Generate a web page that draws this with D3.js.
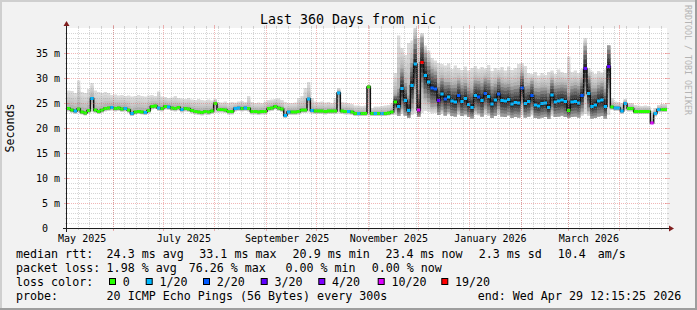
<!DOCTYPE html>
<html><head><meta charset="utf-8">
<script src="https://cdn.jsdelivr.net/npm/d3@7"></script>
<style>
html,body{margin:0;padding:0;background:#f2f2f2;}
svg{display:block;}
text{font-family:"DejaVu Sans Mono",monospace;fill:#000;}
</style></head><body>
<svg id="c" width="697" height="310"></svg>
<script>
// ---------------- data ----------------
const endTime = new Date(Date.UTC(2026, 3, 29, 12, 15, 25));
const spanDays = 360;
const stepDays = 2;
const title = "Last 360 Days from nic";
const yLabel = "Seconds";
const yTicks = [0, 5, 10, 15, 20, 25, 30, 35];
const yMaxMs = 40;

// median rtt per 2-day step (ms)
const median = [
23.9,23.6,23.4,23.8,23.2,23.0,23.5,25.9,23.6,23.3,
23.6,23.9,24.0,24.1,23.9,24.0,23.8,23.9,23.6,22.9,
23.2,23.3,23.2,23.1,23.5,24.3,24.4,24.0,23.9,24.3,
24.2,24.0,23.9,24.1,23.7,23.9,23.8,23.5,23.3,23.2,
23.1,23.3,23.2,23.4,24.9,23.7,23.7,23.6,23.3,23.3,
23.9,24.0,23.9,24.0,23.9,23.3,23.3,23.2,23.3,23.3,
23.9,24.0,24.3,24.0,23.8,22.5,23.2,23.2,23.2,23.3,
23.6,23.6,25.8,23.5,23.4,23.4,23.4,23.3,23.4,23.4,
23.4,27.0,23.4,23.3,23.3,23.2,22.9,22.9,22.9,22.9,
28.2,22.9,22.9,22.9,22.9,22.9,23.0,23.2,25.2,24.3,
27.9,25.5,23.5,28.5,32.8,23.6,33.1,30.5,29.2,28.0,
27.8,25.5,26.8,25.8,26.2,25.4,25.2,26.5,25.3,25.9,
24.7,24.1,26.5,26.2,25.5,26.9,26.3,24.8,25.6,26.8,
25.5,25.4,25.7,24.8,25.1,25.0,28.0,24.9,25.3,26.5,
24.6,24.4,24.9,25.0,24.1,26.6,25.2,25.4,25.6,25.3,
23.5,25.2,25.3,25.0,26.5,31.9,26.9,24.3,24.6,25.4,
25.6,24.3,32.3,24.2,24.0,24.0,23.4,24.9,23.9,23.9,
23.3,23.3,23.3,23.3,23.3,21.0,22.9,23.7,23.7,23.7
];
// lost pings (of 20) per step
const loss = [
0,0,1,0,0,0,0,1,0,0,
0,0,0,1,0,0,0,1,0,1,
0,0,0,1,0,0,0,1,0,0,
1,0,0,0,1,0,0,0,0,0,
0,0,0,0,0,0,0,0,0,0,
1,1,0,1,0,0,0,0,0,0,
0,0,0,0,0,1,1,0,0,0,
0,0,1,1,0,0,0,0,0,0,
0,1,0,0,1,0,0,1,0,0,
0,0,1,0,1,0,0,0,0,1,
1,1,1,1,1,10,19,1,1,2,
2,3,1,2,1,1,1,2,1,1,
1,1,1,2,1,2,1,1,1,2,
1,1,1,1,1,1,2,1,1,2,
1,1,1,1,1,1,1,1,1,1,
0,1,1,1,2,3,1,1,1,1,
1,1,3,0,1,1,1,1,0,0,
0,0,0,0,0,10,1,1,0,0
];
// slowest ping per step (ms)
const smokeHi = [
27.5,27.4,27.0,29.5,27.2,27.0,27.8,29.0,27.5,27.2,
27.0,27.2,27.0,26.6,26.7,26.5,26.6,26.4,26.5,26.3,
26.4,26.6,26.4,26.3,26.5,26.6,26.4,27.3,26.3,26.2,
26.0,26.1,26.4,26.0,25.9,25.8,26.0,25.7,25.6,25.8,
25.6,25.5,25.7,25.5,25.8,25.2,25.1,25.3,25.0,25.2,
25.1,25.3,25.4,25.2,26.4,25.2,25.0,25.1,25.0,25.3,
25.6,25.7,25.8,25.9,25.6,25.2,25.0,25.0,25.1,26.0,
26.4,28.0,29.2,26.0,25.3,25.2,25.3,25.1,25.2,25.0,
26.0,28.0,25.2,25.1,25.0,24.8,24.5,24.5,24.4,24.5,
28.6,24.0,24.3,24.3,24.4,24.5,24.6,25.0,31.0,38.5,
36.0,34.6,37.0,37.5,41.0,38.0,39.0,36.5,35.5,34.0,
33.5,33.0,32.8,32.5,32.9,31.8,32.5,32.0,31.6,32.3,
31.5,32.0,32.4,31.8,32.2,31.9,32.6,31.4,32.0,31.7,
32.2,31.5,32.3,31.6,32.0,32.8,33.0,32.4,31.0,30.8,
31.2,30.5,31.0,30.6,31.2,31.5,30.8,31.7,31.2,31.0,
34.3,31.2,31.5,31.0,31.8,38.0,32.0,31.3,30.8,31.4,
31.1,31.7,36.5,26.0,25.3,25.2,25.0,25.8,25.0,25.0,
24.6,24.5,24.4,24.5,24.4,23.5,24.0,24.6,24.8,24.8
];
// fastest ping per step (ms)
const smokeLo = [
23.3,23.0,22.8,23.1,22.7,22.5,22.9,23.2,23.0,22.8,
23.0,23.3,23.4,23.5,23.3,23.4,23.2,23.3,23.0,22.4,
22.7,22.8,22.7,22.6,22.9,23.7,23.8,23.4,23.3,23.7,
23.6,23.4,23.3,23.5,23.1,23.3,23.2,22.9,22.7,22.6,
22.5,22.7,22.6,22.8,23.0,23.1,23.1,23.0,22.7,22.7,
23.3,23.4,23.3,23.4,23.3,22.7,22.7,22.6,22.7,22.7,
23.3,23.4,23.7,23.4,23.2,22.0,22.6,22.6,22.6,22.7,
23.0,23.0,23.1,22.9,22.8,22.8,22.8,22.7,22.8,22.8,
22.8,22.9,22.8,22.7,22.7,22.6,22.4,22.4,22.4,22.4,
22.5,22.4,22.4,22.4,22.4,22.4,22.5,22.6,22.6,22.4,
22.8,22.5,22.0,22.6,22.9,22.2,23.0,23.4,23.2,22.9,
23.0,22.6,22.8,22.5,22.7,22.4,22.3,22.6,22.4,22.5,
22.2,21.9,22.6,22.5,22.3,22.6,22.4,22.0,22.4,22.6,
22.3,22.2,22.4,22.0,22.2,22.1,22.5,22.1,22.3,22.5,
22.0,21.9,22.1,22.2,21.8,22.4,22.2,22.3,22.4,22.2,
22.0,22.2,22.3,22.1,22.4,22.8,22.4,21.9,22.0,22.3,
22.4,21.9,22.6,23.6,23.4,23.4,22.8,23.5,23.3,23.3,
22.8,22.8,22.8,22.8,22.8,20.9,22.3,23.1,23.2,23.2
];
// spread of the dense core of pings around the median (ms)
const smokeCore = [
0.3,0.3,0.3,0.3,0.3,0.3,0.3,0.3,0.3,0.3,
0.3,0.3,0.3,0.3,0.3,0.3,0.3,0.3,0.3,0.3,
0.3,0.3,0.3,0.3,0.3,0.3,0.3,0.3,0.3,0.3,
0.3,0.3,0.3,0.3,0.3,0.3,0.3,0.3,0.3,0.3,
0.3,0.3,0.3,0.3,0.3,0.3,0.3,0.3,0.3,0.3,
0.3,0.3,0.3,0.3,0.3,0.3,0.3,0.3,0.3,0.3,
0.3,0.3,0.3,0.3,0.3,0.3,0.3,0.3,0.3,0.3,
0.3,0.3,0.3,0.3,0.3,0.3,0.3,0.3,0.3,0.3,
0.3,0.3,0.3,0.3,0.3,0.3,0.3,0.3,0.3,0.3,
0.3,0.3,0.3,0.3,0.3,0.3,0.3,0.3,1.5,3.5,
4.0,3.5,3.0,4.5,5.0,4.0,5.0,4.5,4.0,3.8,
3.5,3.4,3.2,3.4,3.0,3.2,3.5,3.0,3.3,3.1,
3.4,3.6,3.0,3.2,3.5,3.0,3.3,3.6,3.2,3.0,
3.4,3.3,3.1,3.5,3.4,3.6,3.0,3.5,3.2,2.9,
3.4,3.5,3.2,3.1,3.6,3.0,3.3,3.2,3.1,3.3,
3.5,3.2,3.3,3.4,3.2,4.5,3.5,3.6,3.3,3.2,
3.4,3.5,4.5,0.3,0.3,0.3,0.3,0.3,0.3,0.3,
0.3,0.3,0.3,0.3,0.3,0.3,0.3,0.3,0.3,0.3
];
const lossLabels = ["0", "1/20", "2/20", "3/20", "4/20", "10/20", "19/20"];
const lossThresholds = [0, 1, 2, 3, 4, 10, 19];
const lossColors = ["#26ff00", "#00b8ff", "#0059ff", "#5e00ff", "#7e00ff", "#dd00ff", "#ff0000"];
const rttStats = ["24.3 ms avg", "33.1 ms max", "20.9 ms min", "23.4 ms now", "2.3 ms sd", "10.4", "am/s"];
const lossStats = ["1.98 % avg", "76.26 % max", "0.00 % min", "0.00 % now"];
const probeText = "20 ICMP Echo Pings (56 Bytes) every 300s";
const endText = "end: Wed Apr 29 12:15:25 2026";
const watermark = "RRDTOOL / TOBI OETIKER";

// ---------------- layout ----------------
const W = 697, H = 310;
const X0 = 67, X1 = 667, Y0 = 228, Y1 = 28;
const DAY = 864e5;
const startTime = new Date(+endTime - spanDays * DAY);

const svg = d3.select("#c");
const x = d3.scaleUtc().domain([startTime, endTime]).range([X0, X1]);
const y = d3.scaleLinear().domain([0, yMaxMs]).range([Y0, Y1]);
const xs = i => x(new Date(+startTime + i * stepDays * DAY));

// background + 3D border
svg.append("rect").attr("width", W).attr("height", H).attr("fill", "#f2f2f2");
svg.append("path").attr("d", `M0,0H${W}V2H2V${H}H0Z`).attr("fill", "#cfcfcf");
svg.append("path").attr("d", `M${W},0V${H}H0V${H-2}H${W-2}V0Z`).attr("fill", "#9e9e9e");
svg.append("rect").attr("x", X0).attr("y", Y1).attr("width", X1 - X0).attr("height", Y0 - Y1).attr("fill", "#fff");

const clip = svg.append("clipPath").attr("id", "clp");
clip.append("rect").attr("x", X0).attr("y", Y1).attr("width", X1 - X0).attr("height", Y0 - Y1);
const plot = svg.append("g").attr("clip-path", "url(#clp)");

// step vertices
function stepData(fnLo, fnHi) {
  const out = [];
  median.forEach((m, i) => {
    const lo = fnLo(i), hi = fnHi(i);
    out.push({x: xs(i), lo, hi});
    out.push({x: xs(i + 1), lo, hi});
  });
  return out;
}
const area = d3.area().x(d => d.x).y0(d => y(d.lo)).y1(d => y(d.hi));

const coreHi = i => Math.min(smokeHi[i], median[i] + smokeCore[i]);
const coreLo = i => Math.max(smokeLo[i], median[i] - smokeCore[i]);
const lerp = (a, b, t) => a + (b - a) * t;

// smoke layers: outer light band down to the dark core
const outerColors = ["#dcdcdc", "#d4d4d4", "#cbcbcb", "#c1c1c1", "#b4b4b4"];
outerColors.forEach((c, k) => {
  const t = k / outerColors.length;
  plot.append("path")
    .attr("d", area(stepData(i => lerp(smokeLo[i], coreLo(i), t), i => lerp(smokeHi[i], coreHi(i), t))))
    .attr("fill", c);
});
const innerColors = ["#9a9a9a", "#7c7c7c", "#606060", "#454545", "#2a2a2a"];
innerColors.forEach((c, k) => {
  const t = k / innerColors.length;
  plot.append("path")
    .attr("d", area(stepData(i => lerp(coreLo(i), median[i], t), i => lerp(coreHi(i), median[i], t))))
    .attr("fill", c);
});

// median: dark step line (vertical jumps), then LINE3 pieces coloured by loss
const stepPts = [];
median.forEach((m, i) => { stepPts.push({x: xs(i), v: m}); stepPts.push({x: xs(i + 1), v: m}); });
const line = d3.line().x(d => d.x).y(d => y(d.v));
plot.append("path").attr("d", line(stepPts)).attr("fill", "none").attr("stroke", "#111").attr("stroke-width", 1.5);

const bucket = l => { let b = 0; lossThresholds.forEach((t, j) => { if (l >= t) b = j; }); return b; };
lossColors.forEach((c, b) => {
  const p = d3.path();
  median.forEach((m, i) => {
    if (bucket(loss[i]) !== b) return;
    p.moveTo(xs(i), y(m));
    p.lineTo(xs(i + 1), y(m));
  });
  plot.append("path").attr("d", p.toString()).attr("fill", "none").attr("stroke", c).attr("stroke-width", 3);
});

// grid (drawn over the data, like rrdtool)
const grid = svg.append("g");
const minorCol = "rgba(143,143,143,0.75)", majorCol = "rgba(222,79,79,0.6)";
d3.range(1, yMaxMs).filter(v => v % 5 !== 0).forEach(v => {
  const yy = Math.round(y(v)) + 0.5;
  grid.append("line").attr("x1", X0).attr("x2", X1).attr("y1", yy).attr("y2", yy)
    .attr("stroke", minorCol).attr("stroke-width", 0.5).attr("stroke-dasharray", "1,1");
  grid.append("line").attr("x1", X0 - 2).attr("x2", X0).attr("y1", yy).attr("y2", yy).attr("stroke", minorCol).attr("stroke-width", 0.5);
  grid.append("line").attr("x1", X1).attr("x2", X1 + 2).attr("y1", yy).attr("y2", yy).attr("stroke", minorCol).attr("stroke-width", 0.5);
});
const weeks = d3.utcSunday.range(startTime, endTime);
const months = d3.utcMonth.range(startTime, endTime);
weeks.forEach(d => {
  const xx = Math.round(x(d)) + 0.5;
  grid.append("line").attr("x1", xx).attr("x2", xx).attr("y1", Y1).attr("y2", Y0)
    .attr("stroke", minorCol).attr("stroke-width", 0.5).attr("stroke-dasharray", "1,1");
  grid.append("line").attr("x1", xx).attr("x2", xx).attr("y1", Y0).attr("y2", Y0 + 2).attr("stroke", minorCol).attr("stroke-width", 0.5);
  grid.append("line").attr("x1", xx).attr("x2", xx).attr("y1", Y1 - 2).attr("y2", Y1).attr("stroke", minorCol).attr("stroke-width", 0.5);
});
yTicks.filter(v => v > 0).forEach(v => {
  const yy = Math.round(y(v)) + 0.5;
  grid.append("line").attr("x1", X0).attr("x2", X1).attr("y1", yy).attr("y2", yy)
    .attr("stroke", majorCol).attr("stroke-width", 0.7).attr("stroke-dasharray", "1,1");
  grid.append("line").attr("x1", X0 - 3).attr("x2", X0 + 2).attr("y1", yy).attr("y2", yy).attr("stroke", majorCol).attr("stroke-width", 0.7);
  grid.append("line").attr("x1", X1 - 2).attr("x2", X1 + 3).attr("y1", yy).attr("y2", yy).attr("stroke", majorCol).attr("stroke-width", 0.7);
});
months.forEach(d => {
  const xx = Math.round(x(d)) + 0.5;
  grid.append("line").attr("x1", xx).attr("x2", xx).attr("y1", Y1).attr("y2", Y0)
    .attr("stroke", majorCol).attr("stroke-width", 0.7).attr("stroke-dasharray", "1,1");
  grid.append("line").attr("x1", xx).attr("x2", xx).attr("y1", Y0).attr("y2", Y0 + 3).attr("stroke", majorCol).attr("stroke-width", 0.7);
  grid.append("line").attr("x1", xx).attr("x2", xx).attr("y1", Y1 - 3).attr("y2", Y1).attr("stroke", majorCol).attr("stroke-width", 0.7);
});

// axes + arrows
const axisCol = "#1f1f1f", arrowCol = "#801f1f";
svg.append("line").attr("x1", X0 - 4).attr("x2", X1 + 4).attr("y1", Y0 + 0.5).attr("y2", Y0 + 0.5).attr("stroke", axisCol).attr("stroke-width", 1);
svg.append("line").attr("x1", X0 - 0.5).attr("x2", X0 - 0.5).attr("y1", Y0 + 4).attr("y2", Y1 - 4).attr("stroke", axisCol).attr("stroke-width", 1);
svg.append("path").attr("d", `M${X1 + 2},${Y0 - 2.5}L${X1 + 7},${Y0 + 0.5}L${X1 + 2},${Y0 + 3.5}Z`).attr("fill", arrowCol);
svg.append("path").attr("d", `M${X0 - 3.5},${Y1 - 2}L${X0 - 0.5},${Y1 - 7}L${X0 + 2.5},${Y1 - 2}Z`).attr("fill", arrowCol);

// y tick labels
yTicks.forEach(v => {
  svg.append("text").attr("x", v === 0 ? X0 - 19 : X0 - 7).attr("y", y(v) + 3.6)
    .attr("text-anchor", "end").attr("font-size", "10px")
    .text(v === 0 ? "0" : `${v} m`);
});
// x labels
const fmt = d3.utcFormat("%B %Y");
d3.utcMonth.every(2).range(d3.utcMonth.floor(startTime), endTime).forEach(d => {
  svg.append("text").attr("x", x(new Date(+d + 12.6 * DAY))).attr("y", Y0 + 13.5)
    .attr("text-anchor", "middle").attr("font-size", "10px").text(fmt(d));
});

// title, axis title, watermark
svg.append("text").attr("x", 348).attr("y", 24).attr("text-anchor", "middle").attr("font-size", "13.3px").text(title);
svg.append("text").attr("transform", `translate(14,${(Y0 + Y1) / 2}) rotate(-90)`).attr("text-anchor", "middle")
  .attr("font-size", "11.67px").text(yLabel);
svg.append("text").attr("transform", "translate(685,5) rotate(90)").attr("font-size", "8.3px")
  .style("fill", "#b4b4b4").text(watermark);

// legend
const lg = svg.append("g").attr("font-size", "11.67px");
const put = (s, xx, yy) => lg.append("text").attr("x", xx).attr("y", yy).text(s);
const r1 = 258, r2 = 272, r3 = 286, r4 = 300;
put("median rtt:", 16, r1);
[106.6, 199.3, 292.6, 385.4, 478.7, 557.7, 597.7].forEach((xx, j) => put(rttStats[j], xx, r1));
put("packet loss:", 16, r2);
[106.6, 188.7, 285.4, 371.7].forEach((xx, j) => put(lossStats[j], xx, r2));
put("loss color:", 16, r3);
const swX = [109, 145.7, 203, 260.7, 318.3, 377.7, 441.3];
lossLabels.forEach((s, j) => {
  lg.append("rect").attr("x", swX[j] + 0.5).attr("y", 278.5).attr("width", 6).attr("height", 6)
    .attr("fill", lossColors[j]).attr("stroke", "#000").attr("stroke-width", 1);
  put(s, swX[j] + 13.7, r3);
});
put("probe:", 16, r4);
put(probeText, 106.6, r4);
put(endText, 477.7, r4);
</script>
</body></html>
